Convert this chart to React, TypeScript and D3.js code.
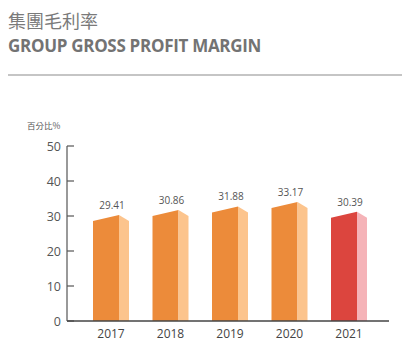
import React from "react";
import * as d3 from "d3";

const years = ["2017", "2018", "2019", "2020", "2021"];
const margins = [29.41, 30.86, 31.88, 33.17, 30.39];
const yTicks = [0, 10, 20, 30, 40, 50];

const W = 402;
const H = 352;

export default function App() {
  const x = d3.scalePoint<string>().domain(years).range([111, 349]);
  const y = d3.scaleLinear().domain([0, 50]).range([321, 146]);

  const frontW = 26;
  const sideW = 10;
  const slant = 3; // half-rise of the sloped top

  return (
    <svg
      width={W}
      height={H}
      style={{ position: "absolute", left: 0, top: 0, fontFamily: "'Open Sans', 'Noto Sans', sans-serif" }}
    >
      {/* titles */}
      <text x={8} y={28} fontSize={18} fill="#7a7a7a" fontFamily="'Noto Sans CJK TC', sans-serif">
        集團毛利率
      </text>
      <text x={8} y={52} fontSize={17} fontWeight="bold" fill="#737373" letterSpacing={-0.3}>
        GROUP GROSS PROFIT MARGIN
      </text>
      <line x1={8} x2={402} y1={75} y2={75} stroke="#8c8c8c" strokeWidth={1.2} />

      {/* unit */}
      <text x={27} y={129} fontSize={8.5} fill="#555" fontFamily="'Noto Sans CJK TC', sans-serif">
        百分比%
      </text>

      {/* y axis */}
      <line x1={67} x2={67} y1={y(50)} y2={y(0)} stroke="#555" strokeWidth={1.2} />
      {yTicks.map((t) => (
        <g key={t}>
          <line x1={67} x2={74} y1={y(t)} y2={y(t)} stroke="#555" strokeWidth={1.2} />
          <text x={61} y={y(t) + 4.5} fontSize={12.5} fill="#555" textAnchor="end">
            {t}
          </text>
        </g>
      ))}

      {/* bars */}
      {years.map((yr, i) => {
        const c = x(yr)!;
        const v = margins[i];
        const last = i === years.length - 1;
        const front = last ? "#dc453e" : "#ec8b3a";
        const side = last ? "#f5b3b8" : "#fcc48d";
        const x0 = c - 18;
        const x1 = x0 + frontW;
        const x2 = x1 + sideW;
        const top = y(v);
        const base = y(0);
        return (
          <g key={yr}>
            <path
              d={`M${x0},${base} L${x0},${top + slant} L${x1},${top - slant} L${x1},${base} Z`}
              fill={front}
            />
            <path
              d={`M${x1},${base} L${x1},${top - slant} L${x2},${top + slant} L${x2},${base} Z`}
              fill={side}
            />
            <text x={c + 1} y={top - 9} fontSize={10} fill="#555" textAnchor="middle">
              {v.toFixed(2)}
            </text>
            <text x={c} y={338} fontSize={12} fill="#444" textAnchor="middle">
              {yr}
            </text>
          </g>
        );
      })}

      {/* x axis baseline */}
      <line x1={67} x2={389} y1={y(0)} y2={y(0)} stroke="#444" strokeWidth={1.4} />
    </svg>
  );
}
